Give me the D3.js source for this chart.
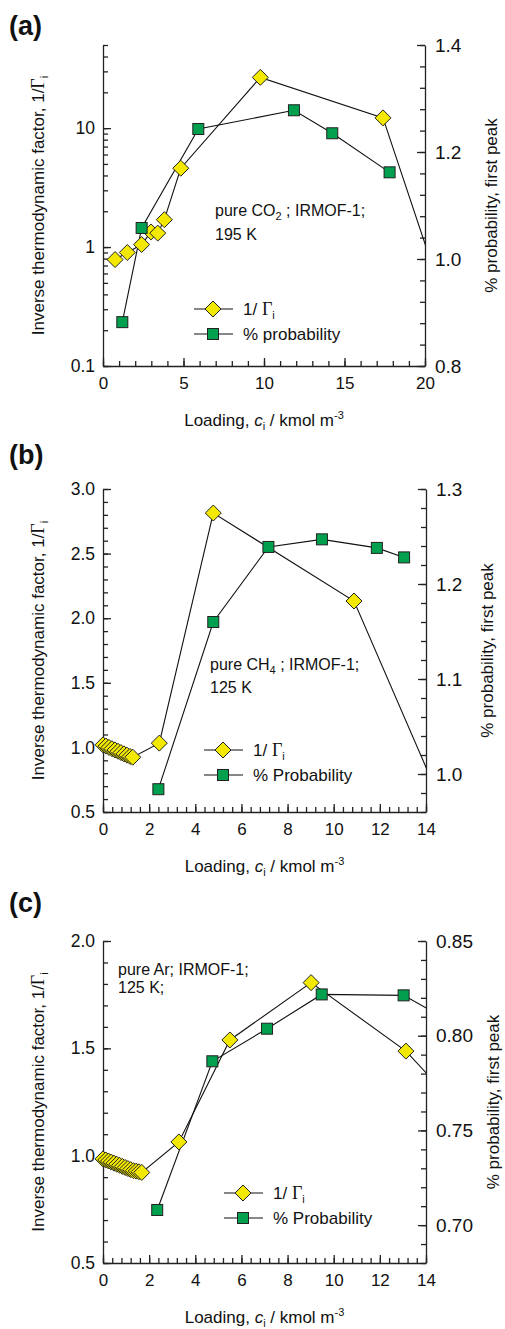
<!DOCTYPE html>
<html>
<head>
<meta charset="utf-8">
<script src="https://cdn.jsdelivr.net/npm/d3@7"></script>
<style>
  html, body { margin: 0; padding: 0; background: #fff; }
  svg { display: block; }
</style>
</head>
<body>
<script>
// --- data ---
// (a) pure CO2, IRMOF-1, 195 K  (last diamond point lies past the axis, line is clipped)
const aLoadGamma = [0.75, 1.51, 2.4, 2.98, 3.4, 3.81, 4.83, 9.77, 17.39, 21];
const aInvGamma  = [0.785, 0.90, 1.05, 1.34, 1.31, 1.70, 4.6, 26.7, 12.2, 0.42];
const aLoadProb  = [1.2, 2.4, 5.92, 11.86, 14.24, 17.8];
const aProb      = [0.882, 1.058, 1.243, 1.278, 1.235, 1.162];

// (b) pure CH4, IRMOF-1, 125 K
const bLoadGamma = [0.0, 0.13, 0.26, 0.39, 0.52, 0.65, 0.78, 0.91, 1.04, 1.17, 1.29, 2.44, 4.78, 10.88, 14.5];
const bInvGamma  = [1.02, 1.01, 1.0, 0.99, 0.98, 0.97, 0.96, 0.95, 0.94, 0.93, 0.924, 1.033, 2.814, 2.133, 0.64];
const bLoadProb  = [2.40, 4.78, 7.17, 9.49, 11.87, 13.05];
const bProb      = [0.984, 1.160, 1.239, 1.247, 1.238, 1.228];

// (c) pure Ar, IRMOF-1, 125 K
const cLoadGamma = [0.0, 0.12, 0.24, 0.36, 0.48, 0.6, 0.72, 0.84, 0.96, 1.08, 1.2, 1.32, 1.44, 1.56, 1.68, 3.29, 5.50, 9.02, 13.13, 15];
const cInvGamma  = [0.985, 0.98, 0.975, 0.97, 0.965, 0.96, 0.955, 0.95, 0.945, 0.94, 0.935, 0.93, 0.928, 0.925, 0.922, 1.064, 1.539, 1.806, 1.487, 1.27];
const cLoadProb  = [2.35, 4.74, 7.11, 9.48, 13.03, 15];
const cProb      = [0.708, 0.7865, 0.8037, 0.8218, 0.8213, 0.808];

// tick labels
const aXTicks = [0, 5, 10, 15, 20];
const aLeftTicks = [0.1, 1, 10];
const aRightTicks = [0.8, 1.0, 1.2, 1.4];
const bXTicks = [0, 2, 4, 6, 8, 10, 12, 14];
const bLeftTicks = [0.5, 1.0, 1.5, 2.0, 2.5, 3.0];
const bRightTicks = [1.0, 1.1, 1.2, 1.3];
const cXTicks = [0, 2, 4, 6, 8, 10, 12, 14];
const cLeftTicks = [0.5, 1.0, 1.5, 2.0];
const cRightTicks = [0.70, 0.75, 0.80, 0.85];

const FONT = "'Liberation Sans', Arial, Helvetica, sans-serif";
const SERIF = "'Liberation Serif', 'Times New Roman', serif";
const YELLOW = "#f2e800";
const GREEN = "#00a04e";
const INK = "#222";
const X0 = 103;

const svg = d3.select("body").append("svg")
    .attr("width", 505).attr("height", 1329)
    .attr("font-family", FONT);
svg.append("rect").attr("width", 505).attr("height", 1329).attr("fill", "#fff");

const panels = [
  { id: "a", tag: "(a)", tagY: 35, top: 45, bottom: 366, x1: 425,
    xDomain: [0, 20], xTicks: aXTicks, xMinor: 1,
    leftLog: true, leftDomain: [0.1, 50], leftTicks: aLeftTicks, leftMinor: null, leftFmt: d => String(d),
    rightDomain: [0.8, 1.4], rightTicks: aRightTicks, rightMinor: 0.04, rightFmt: d3.format(".1f"),
    gamma: aLoadGamma.map((c, i) => [c, aInvGamma[i]]),
    prob: aLoadProb.map((c, i) => [c, aProb[i]]),
    note: ["pure CO", "2", " ; IRMOF-1;", "195 K"], noteX: 215, noteY: 216, noteGap: 24,
    legX: 213, legY: 309, probName: "% probability", rightLabX: 497 },
  { id: "b", tag: "(b)", tagY: 464, top: 489, bottom: 812, x1: 426,
    xDomain: [0, 14], xTicks: bXTicks, xMinor: 0.4,
    leftLog: false, leftDomain: [0.5, 3.0], leftTicks: bLeftTicks, leftMinor: 0.1, leftFmt: d3.format(".1f"),
    rightDomain: [0.96, 1.3], rightTicks: bRightTicks, rightMinor: 0.02, rightFmt: d3.format(".1f"),
    gamma: bLoadGamma.map((c, i) => [c, bInvGamma[i]]),
    prob: bLoadProb.map((c, i) => [c, bProb[i]]),
    note: ["pure CH", "4", " ; IRMOF-1;", "125 K"], noteX: 210, noteY: 670, noteGap: 23,
    legX: 223, legY: 750, probName: "% Probability", rightLabX: 493 },
  { id: "c", tag: "(c)", tagY: 912, top: 941, bottom: 1263, x1: 426,
    xDomain: [0, 14], xTicks: cXTicks, xMinor: 0.4,
    leftLog: false, leftDomain: [0.5, 2.0], leftTicks: cLeftTicks, leftMinor: 0.1, leftFmt: d3.format(".1f"),
    rightDomain: [0.68, 0.85], rightTicks: cRightTicks, rightMinor: 0.01, rightFmt: d3.format(".2f"),
    gamma: cLoadGamma.map((c, i) => [c, cInvGamma[i]]),
    prob: cLoadProb.map((c, i) => [c, cProb[i]]),
    note: ["pure Ar; IRMOF-1;", "", "", "125 K;"], noteX: 118, noteY: 975, noteGap: 18,
    legX: 243, legY: 1193, probName: "% Probability", rightLabX: 499 }
];

const diamond = "M0,-8L8,0L0,8L-8,0Z";

function styleAxis(g, size) {
  g.attr("font-family", FONT).attr("font-size", size).attr("color", INK);
  g.selectAll("path, line").attr("stroke-width", 1.3);
  g.selectAll("text").attr("fill", "#111");
}

function drawPanel(p) {
  const x = d3.scaleLinear().domain(p.xDomain).range([X0, p.x1]);
  const yL = (p.leftLog ? d3.scaleLog() : d3.scaleLinear()).domain(p.leftDomain).range([p.bottom, p.top]);
  const yR = d3.scaleLinear().domain(p.rightDomain).range([p.bottom, p.top]);
  const g = svg.append("g");

  // minor ticks
  const xMinorVals = d3.range(p.xDomain[0], p.xDomain[1] + 1e-6, p.xMinor);
  const leftMinorVals = p.leftLog ? yL.ticks() : d3.range(p.leftDomain[0], p.leftDomain[1] + 1e-6, p.leftMinor);
  const rightMinorVals = d3.range(p.rightDomain[0], p.rightDomain[1] + 1e-6, p.rightMinor);

  g.append("g").attr("transform", `translate(0,${p.bottom})`)
    .call(d3.axisBottom(x).tickValues(xMinorVals).tickSize(-5).tickSizeOuter(0).tickFormat(""))
    .call(a => { a.select(".domain").remove(); styleAxis(a, 17); });
  g.append("g").attr("transform", `translate(${X0},0)`)
    .call(d3.axisLeft(yL).tickValues(leftMinorVals).tickSize(-5).tickSizeOuter(0).tickFormat(""))
    .call(a => { a.select(".domain").remove(); styleAxis(a, 17); });
  g.append("g").attr("transform", `translate(${p.x1},0)`)
    .call(d3.axisRight(yR).tickValues(rightMinorVals).tickSize(-5).tickSizeOuter(0).tickFormat(""))
    .call(a => { a.select(".domain").remove(); styleAxis(a, 17); });

  // major ticks + labels
  g.append("g").attr("transform", `translate(0,${p.bottom})`)
    .call(d3.axisBottom(x).tickValues(p.xTicks).tickSize(-8).tickSizeOuter(0).tickPadding(11).tickFormat(d3.format("d")))
    .call(a => styleAxis(a, 17));
  g.append("g").attr("transform", `translate(${X0},0)`)
    .call(d3.axisLeft(yL).tickValues(p.leftTicks).tickSize(-8).tickSizeOuter(0).tickPadding(8).tickFormat(p.leftFmt))
    .call(a => styleAxis(a, 17.5));
  g.append("g").attr("transform", `translate(${p.x1},0)`)
    .call(d3.axisRight(yR).tickValues(p.rightTicks).tickSize(-8).tickSizeOuter(0).tickPadding(10).tickFormat(p.rightFmt))
    .call(a => styleAxis(a, 19));

  // series (lines clipped at the plot's right edge)
  const clipId = "clip-" + p.id;
  svg.append("clipPath").attr("id", clipId)
    .append("rect").attr("x", 0).attr("y", p.top - 20).attr("width", p.x1).attr("height", p.bottom - p.top + 40);

  const lineL = d3.line().x(d => x(d[0])).y(d => yL(d[1]));
  const lineR = d3.line().x(d => x(d[0])).y(d => yR(d[1]));
  g.append("path").attr("d", lineL(p.gamma)).attr("clip-path", `url(#${clipId})`)
    .attr("fill", "none").attr("stroke", "#111").attr("stroke-width", 1.1);
  g.append("path").attr("d", lineR(p.prob)).attr("clip-path", `url(#${clipId})`)
    .attr("fill", "none").attr("stroke", "#111").attr("stroke-width", 1.1);

  const inX = d => d[0] <= p.xDomain[1];
  g.selectAll(".dia").data(p.gamma.filter(inX)).join("path")
    .attr("d", diamond)
    .attr("transform", d => `translate(${x(d[0])},${yL(d[1])})`)
    .attr("fill", YELLOW).attr("stroke", "#222").attr("stroke-width", 1);
  g.selectAll(".sq").data(p.prob.filter(inX)).join("rect")
    .attr("x", d => x(d[0]) - 5.5).attr("y", d => yR(d[1]) - 5.5)
    .attr("width", 11).attr("height", 11)
    .attr("fill", GREEN).attr("stroke", "#222").attr("stroke-width", 1);

  // panel tag
  g.append("text").attr("x", 9).attr("y", p.tagY)
    .attr("font-size", 27).attr("font-weight", "bold").attr("fill", "#111").text(p.tag);

  // axis titles
  const xt = g.append("text").attr("x", (X0 + p.x1) / 2).attr("y", p.bottom + 60)
    .attr("text-anchor", "middle").attr("font-size", 17).attr("fill", "#111");
  xt.append("tspan").text("Loading, ");
  xt.append("tspan").attr("font-style", "italic").text("c");
  xt.append("tspan").attr("font-size", 11).attr("dy", 4).text("i");
  xt.append("tspan").attr("dy", -4).text(" / kmol m");
  xt.append("tspan").attr("font-size", 11).attr("dy", -7).text("-3");

  const mid = (p.top + p.bottom) / 2;
  const lt = g.append("text").attr("transform", `translate(44,${mid}) rotate(-90)`)
    .attr("text-anchor", "middle").attr("font-size", 17).attr("fill", "#111");
  lt.append("tspan").text("Inverse thermodynamic factor, 1/");
  lt.append("tspan").attr("font-family", SERIF).attr("font-size", 18).text("Γ");
  lt.append("tspan").attr("font-size", 11).attr("dy", 4).text("i");

  g.append("text").attr("transform", `translate(${p.rightLabX},${mid}) rotate(-90)`)
    .attr("text-anchor", "middle").attr("font-size", 17).attr("fill", "#111")
    .text("% probability, first peak");

  // annotation
  const nt = g.append("text").attr("x", p.noteX).attr("y", p.noteY).attr("font-size", 16).attr("fill", "#111");
  nt.append("tspan").text(p.note[0]);
  if (p.note[1]) {
    nt.append("tspan").attr("font-size", 11).attr("dy", 4).text(p.note[1]);
    nt.append("tspan").attr("dy", -4).text(p.note[2]);
  }
  g.append("text").attr("x", p.noteX).attr("y", p.noteY + p.noteGap).attr("font-size", 16).attr("fill", "#111")
    .text(p.note[3]);

  // legend
  const lg = g.append("g");
  [0, 1].forEach(k => {
    const ly = p.legY + k * 25;
    lg.append("line").attr("x1", p.legX - 19).attr("x2", p.legX + 20).attr("y1", ly).attr("y2", ly)
      .attr("stroke", "#111").attr("stroke-width", 1.1);
    if (k === 0) {
      lg.append("path").attr("d", diamond).attr("transform", `translate(${p.legX},${ly})`)
        .attr("fill", YELLOW).attr("stroke", "#222");
      const t = lg.append("text").attr("x", p.legX + 30).attr("y", ly + 6).attr("font-size", 17).attr("fill", "#111");
      t.append("tspan").text("1/ ");
      t.append("tspan").attr("font-family", SERIF).attr("font-size", 18).text("Γ");
      t.append("tspan").attr("font-size", 11).attr("dy", 4).text("i");
    } else {
      lg.append("rect").attr("x", p.legX - 5.5).attr("y", ly - 5.5).attr("width", 11).attr("height", 11)
        .attr("fill", GREEN).attr("stroke", "#222");
      lg.append("text").attr("x", p.legX + 30).attr("y", ly + 6).attr("font-size", 17).attr("fill", "#111")
        .text(p.probName);
    }
  });
}

panels.forEach(drawPanel);
</script>
</body>
</html>
